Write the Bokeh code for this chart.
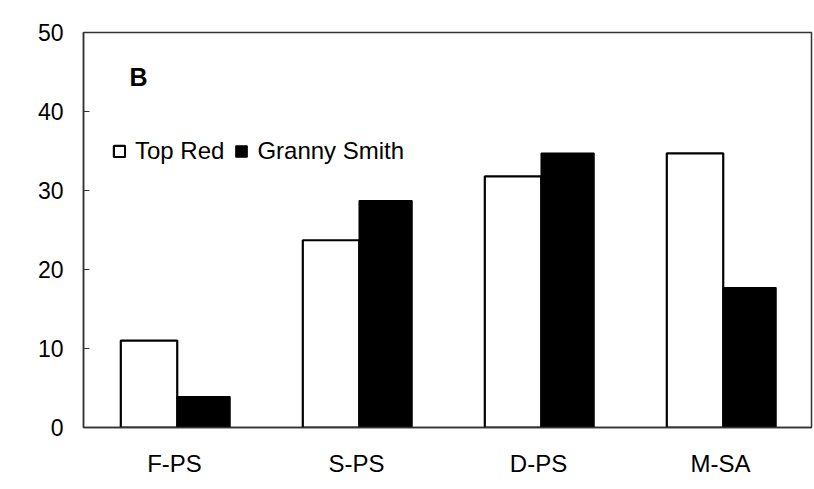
from bokeh.plotting import figure
from bokeh.models import ColumnDataSource, FactorRange, Legend, LegendItem, Label, FixedTicker
from bokeh.transform import dodge
from bokeh.embed import file_html
from bokeh.resources import INLINE

categories = ["F-PS", "S-PS", "D-PS", "M-SA"]
top_red = [11.0, 23.7, 31.8, 34.7]
granny_smith = [3.9, 28.7, 34.7, 17.7]
y_ticks = [0, 10, 20, 30, 40, 50]
series_names = ["Top Red", "Granny Smith"]
panel_label = "B"

FONT = "Liberation Sans"

source = ColumnDataSource(dict(cat=categories, tr=top_red, gs=granny_smith))

p = figure(
    width=814, height=489,
    x_range=FactorRange(factors=categories),
    y_range=(0, 50),
    output_backend="svg", toolbar_location=None, tools="",
    min_border_left=83, min_border_right=3, min_border_top=32, min_border_bottom=62,
)

r1 = p.vbar(x=dodge("cat", -0.14, range=p.x_range), top="tr", width=0.31, source=source,
            fill_color="white", line_color="black", line_width=2.2)
r2 = p.vbar(x=dodge("cat", 0.16, range=p.x_range), top="gs", width=0.29, source=source,
            fill_color="black", line_color="black", line_width=1.5)

p.grid.visible = False
p.outline_line_color = "#333333"
p.outline_line_width = 1.5
p.background_fill_color = "white"
p.border_fill_color = "white"

ya = p.yaxis[0]
ya.ticker = FixedTicker(ticks=y_ticks)
ya.major_tick_in = 6
ya.major_tick_out = 0
ya.minor_tick_line_color = None
ya.major_label_standoff = 20
ya.major_label_text_font = FONT
ya.major_label_text_font_size = "23px"
ya.major_label_text_color = "black"
ya.axis_line_color = "#333333"
ya.axis_line_width = 1.5
ya.major_tick_line_color = "#333333"

xa = p.xaxis[0]
xa.major_tick_in = 0
xa.major_tick_out = 0
xa.major_tick_line_color = None
xa.minor_tick_line_color = None
xa.major_label_standoff = 22
xa.major_label_text_font = FONT
xa.major_label_text_font_size = "24px"
xa.major_label_text_color = "black"
xa.axis_line_color = "#333333"
xa.axis_line_width = 1.5

legend = Legend(
    items=[LegendItem(label=series_names[0], renderers=[r1]),
           LegendItem(label=series_names[1], renderers=[r2])],
    orientation="horizontal",
    location=(29, 262),
    glyph_width=14, glyph_height=14,
    label_standoff=9, spacing=10,
    padding=0, margin=0,
    border_line_alpha=0, background_fill_alpha=0,
    label_text_font=FONT, label_text_font_size="24px", label_text_color="black",
)
p.add_layout(legend, "center")

lbl = Label(x=46, y=337, x_units="screen", y_units="screen", text=panel_label,
            text_font=FONT, text_font_size="25px", text_font_style="bold", text_color="black")
p.add_layout(lbl)

open("out.html", "w").write(file_html(p, INLINE))
